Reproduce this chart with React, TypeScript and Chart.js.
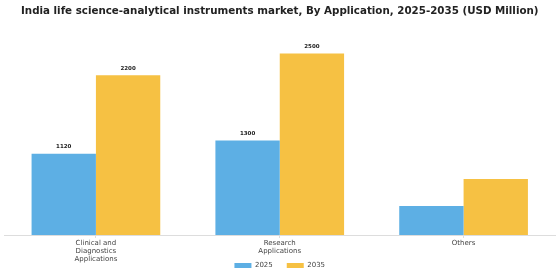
import { useEffect, useRef } from "react";
import { Chart, registerables } from "chart.js";

Chart.register(...registerables);

const chartTitle =
  "India life science-analytical instruments market, By Application, 2025-2035 (USD Million)";
const categories = [
  ["Clinical and", "Diagnostics", "Applications"],
  ["Research", "Applications"],
  ["Others"],
];
const seriesNames = ["2025", "2035"];
const values2025 = [1120, 1300, 400];
const values2035 = [2200, 2500, 770];
const showValue2025 = [true, true, false];
const showValue2035 = [true, true, false];
const seriesColors = ["#5DAFE4", "#F6C143"];

const showFlags = [showValue2025, showValue2035];

const valueLabels = {
  id: "valueLabels",
  afterDatasetsDraw(chart: any) {
    const ctx = chart.ctx;
    ctx.save();
    ctx.font = "bold 5.5px 'DejaVu Sans'";
    ctx.fillStyle = "#222222";
    ctx.textAlign = "center";
    ctx.textBaseline = "bottom";
    chart.data.datasets.forEach((ds: any, i: number) => {
      const meta = chart.getDatasetMeta(i);
      meta.data.forEach((bar: any, j: number) => {
        if (!showFlags[i][j]) return;
        ctx.fillText(String(ds.data[j]), bar.x, bar.y - 4);
      });
    });
    ctx.restore();
  },
};

// let the category labels run past the shortened axis box (so the legend can sit beside them)
const unclipTicks = {
  id: "unclipTicks",
  afterLayout(chart: any) {
    const x = chart.scales.x;
    if (x) x.bottom = chart.height;
  },
};

export default function App() {
  const ref = useRef<HTMLCanvasElement | null>(null);
  useEffect(() => {
    if (!ref.current) return;
    const chart = new Chart(ref.current, {
      type: "bar",
      data: {
        labels: categories,
        datasets: [
          {
            label: seriesNames[0],
            data: values2025,
            backgroundColor: seriesColors[0],
            categoryPercentage: 0.7,
            barPercentage: 1.0,
          },
          {
            label: seriesNames[1],
            data: values2035,
            backgroundColor: seriesColors[1],
            categoryPercentage: 0.7,
            barPercentage: 1.0,
          },
        ],
      },
      options: {
        responsive: false,
        animation: false,
        devicePixelRatio: 1,
        layout: { padding: { left: 4, right: 4.5, top: 0, bottom: 1 } },
        plugins: {
          title: {
            display: true,
            text: chartTitle,
            color: "#222222",
            font: { family: "'DejaVu Sans'", size: 10.3, weight: "bold" },
            padding: { top: 5.5, bottom: 17.5 },
          },
          legend: {
            position: "bottom",
            labels: {
              boxWidth: 17,
              boxHeight: 5,
              padding: 14,
              color: "#444444",
              font: { family: "'DejaVu Sans'", size: 7 },
            },
          },
          tooltip: { enabled: false },
        },
        scales: {
          x: {
            grid: {
              display: true,
              drawOnChartArea: false,
              offset: false,
              tickLength: 3,
              color: "#dddddd",
            },
            border: { display: true, color: "#dddddd" },
            ticks: {
              color: "#444444",
              padding: 1,
              maxRotation: 0,
              autoSkip: false,
              font: { family: "'DejaVu Sans'", size: 7, lineHeight: 1.15 },
            },
            afterFit(scale: any) {
              scale.height = 13;
            },
          },
          y: {
            display: false,
            min: 0,
            max: 2750,
          },
        },
      },
      plugins: [valueLabels, unclipTicks],
    } as any);
    return () => chart.destroy();
  }, []);
  return (
    <div style={{ position: "absolute", left: 0, top: 0, width: 560, height: 280, background: "#ffffff" }}>
      <canvas ref={ref} width={560} height={280} />
    </div>
  );
}
